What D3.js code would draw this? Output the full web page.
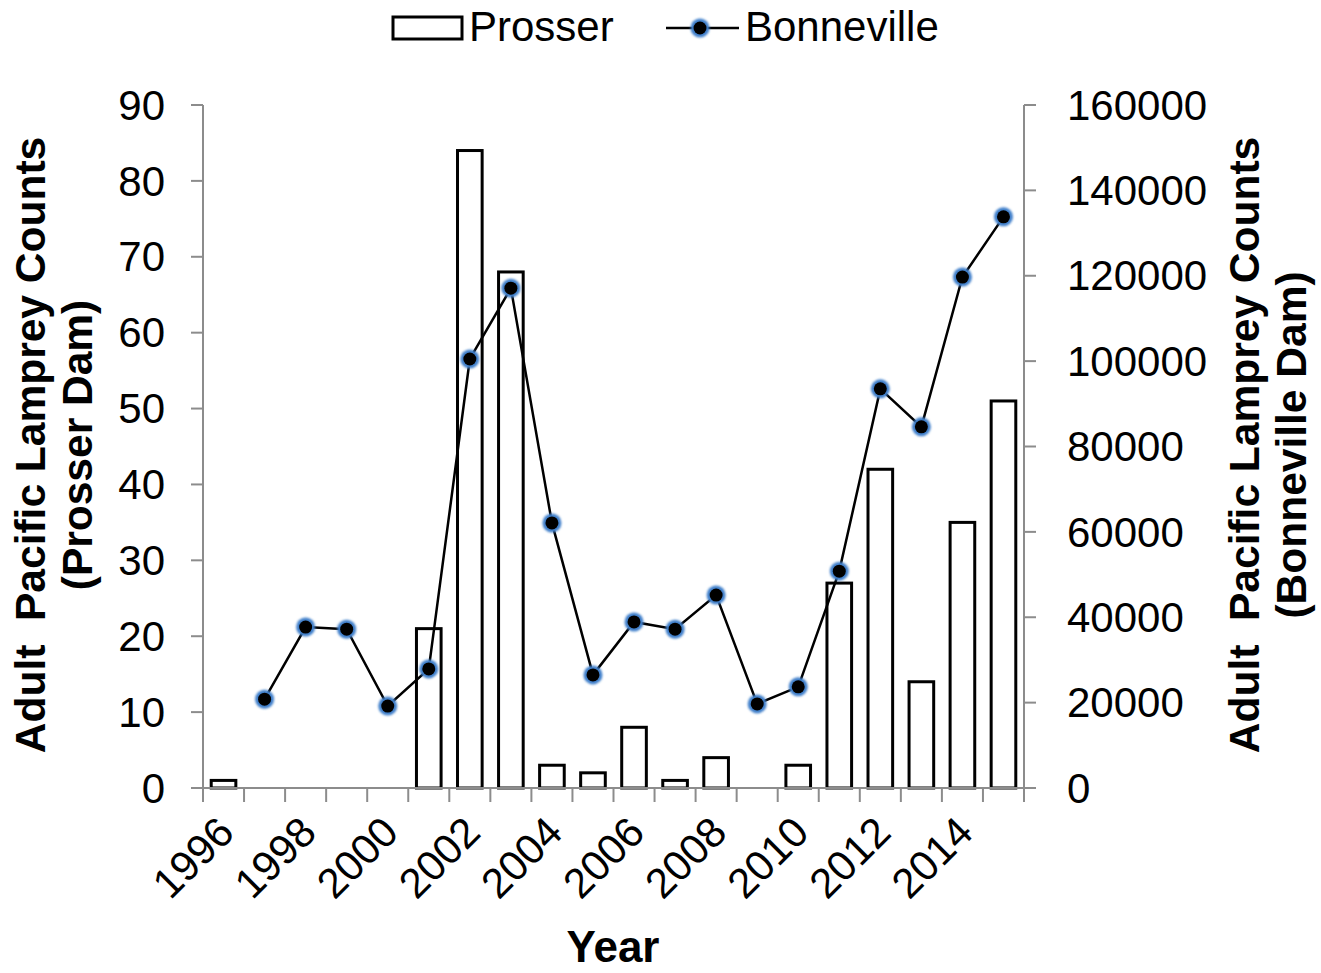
<!DOCTYPE html>
<html>
<head>
<meta charset="utf-8">
<script src="https://cdn.jsdelivr.net/npm/d3@7/dist/d3.min.js"></script>
<style>
  html, body { margin: 0; padding: 0; background: #fff; }
  svg { display: block; font-family: "Liberation Sans", Arial, sans-serif; }
</style>
</head>
<body>
<svg id="chart" width="1321" height="973"></svg>
<script>
// Annual adult Pacific lamprey counts at two Columbia Basin dams
const years = [1996, 1997, 1998, 1999, 2000, 2001, 2002, 2003, 2004, 2005,
               2006, 2007, 2008, 2009, 2010, 2011, 2012, 2013, 2014, 2015];
const prosser = [1, 0, 0, 0, 0, 21, 84, 68, 3, 2, 8, 1, 4, 0, 3, 27, 42, 14, 35, 51];
const bonneville = [null, 20800, 37700, 37200, 19200, 27900, 100500, 117100, 62100, 26500,
                    38900, 37200, 45200, 19700, 23700, 50800, 93500, 84600, 119700, 133800];
const leftTicks = [0, 10, 20, 30, 40, 50, 60, 70, 80, 90];
const rightTicks = [0, 20000, 40000, 60000, 80000, 100000, 120000, 140000, 160000];
const yearLabels = [1996, 1998, 2000, 2002, 2004, 2006, 2008, 2010, 2012, 2014];

const svg = d3.select("#chart");
const plot = { left: 203, right: 1024, top: 105, bottom: 788 };
const axisColor = "#8c8c8c";
const fontSize = 42;

const x = d3.scaleBand().domain(years)
  .range([plot.left, plot.right]).paddingInner(0.4).paddingOuter(0.2);
const yL = d3.scaleLinear().domain([0, 90]).range([plot.bottom, plot.top]);
const yR = d3.scaleLinear().domain([0, 160000]).range([plot.bottom, plot.top]);
const cx = d => x(d) + x.bandwidth() / 2;

// Bars (Prosser); zero-count years draw nothing
svg.append("g").selectAll("rect").data(years.filter((d, i) => prosser[i] > 0)).join("rect")
  .attr("x", d => x(d))
  .attr("width", x.bandwidth())
  .attr("y", d => yL(prosser[years.indexOf(d)]))
  .attr("height", d => yL(0) - yL(prosser[years.indexOf(d)]))
  .attr("fill", "#fff")
  .attr("stroke", "#000")
  .attr("stroke-width", 3);

// Axes
const axes = svg.append("g").attr("stroke", axisColor).attr("stroke-width", 2).attr("fill", "none");
axes.append("line").attr("x1", plot.left).attr("x2", plot.left).attr("y1", plot.top).attr("y2", plot.bottom);
axes.append("line").attr("x1", plot.right).attr("x2", plot.right).attr("y1", plot.top).attr("y2", plot.bottom);
axes.append("line").attr("x1", plot.left - 12).attr("x2", plot.right + 12).attr("y1", plot.bottom).attr("y2", plot.bottom);

leftTicks.forEach(t => {
  axes.append("line").attr("x1", plot.left - 12).attr("x2", plot.left).attr("y1", yL(t)).attr("y2", yL(t));
});
rightTicks.forEach(t => {
  axes.append("line").attr("x1", plot.right).attr("x2", plot.right + 12).attr("y1", yR(t)).attr("y2", yR(t));
});
// category boundary ticks
const step = x.step();
d3.range(years.length + 1).forEach(i => {
  const bx = plot.left + i * step;
  axes.append("line").attr("x1", bx).attr("x2", bx).attr("y1", plot.bottom).attr("y2", plot.bottom + 14);
});

// Tick labels
svg.append("g").selectAll("text").data(leftTicks).join("text")
  .attr("x", plot.left - 38).attr("y", d => yL(d)).attr("dy", "0.35em")
  .attr("text-anchor", "end").attr("font-size", fontSize).attr("fill", "#000")
  .text(d => d);
svg.append("g").selectAll("text").data(rightTicks).join("text")
  .attr("x", plot.right + 43).attr("y", d => yR(d)).attr("dy", "0.35em")
  .attr("text-anchor", "start").attr("font-size", fontSize).attr("fill", "#000")
  .text(d => d);
svg.append("g").selectAll("text").data(yearLabels).join("text")
  .attr("transform", d => `translate(${cx(d) - 8},${plot.bottom + 26}) rotate(-45)`)
  .attr("dy", "0.7em")
  .attr("text-anchor", "end").attr("font-size", fontSize).attr("fill", "#000")
  .text(d => d);

// Line (Bonneville)
const pts = years.map((d, i) => ({ year: d, v: bonneville[i] })).filter(p => p.v != null);
const line = d3.line().x(p => cx(p.year)).y(p => yR(p.v));
svg.append("path").datum(pts).attr("d", line)
  .attr("fill", "none").attr("stroke", "#000").attr("stroke-width", 2.5);

const defs = svg.append("defs");
defs.append("filter").attr("id", "soft").append("feGaussianBlur").attr("stdDeviation", 0.9);

function marker(g, px, py) {
  g.append("circle").attr("cx", px).attr("cy", py).attr("r", 9.5)
    .attr("fill", "#3f7fca").attr("filter", "url(#soft)");
  g.append("circle").attr("cx", px).attr("cy", py).attr("r", 6.5).attr("fill", "#000");
}
const mg = svg.append("g");
pts.forEach(p => marker(mg, cx(p.year), yR(p.v)));

// Axis titles
const titleSize = 42.5;
const titleL = svg.append("text").attr("transform", "translate(30,445) rotate(-90)")
  .attr("text-anchor", "middle").attr("font-size", titleSize).attr("font-weight", "bold");
titleL.append("tspan").attr("x", 0).attr("dy", "0.35em").attr("xml:space", "preserve").text("Adult  Pacific Lamprey Counts");
titleL.append("tspan").attr("x", 0).attr("dy", "1.12em").text("(Prosser Dam)");

const titleR = svg.append("text").attr("transform", "translate(1244,445) rotate(-90)")
  .attr("text-anchor", "middle").attr("font-size", titleSize).attr("font-weight", "bold");
titleR.append("tspan").attr("x", 0).attr("dy", "0.35em").attr("xml:space", "preserve").text("Adult  Pacific Lamprey Counts");
titleR.append("tspan").attr("x", 0).attr("dy", "1.12em").text("(Bonneville Dam)");

svg.append("text").attr("x", 613).attr("y", 962).attr("text-anchor", "middle")
  .attr("font-size", 44).attr("font-weight", "bold").text("Year");

// Legend
const lg = svg.append("g");
lg.append("rect").attr("x", 393).attr("y", 17).attr("width", 69).attr("height", 22)
  .attr("fill", "#fff").attr("stroke", "#000").attr("stroke-width", 3);
lg.append("text").attr("x", 469).attr("y", 41).attr("font-size", fontSize).text("Prosser");
lg.append("line").attr("x1", 666).attr("x2", 739).attr("y1", 28).attr("y2", 28)
  .attr("stroke", "#000").attr("stroke-width", 2.5);
marker(lg, 700, 28);
lg.append("text").attr("x", 745).attr("y", 41).attr("font-size", fontSize).text("Bonneville");
</script>
</body>
</html>
